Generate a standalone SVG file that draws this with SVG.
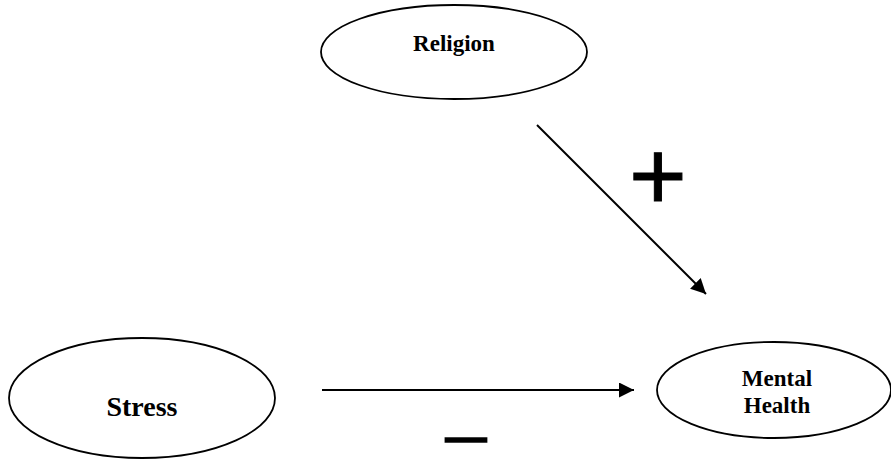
<svg xmlns="http://www.w3.org/2000/svg" width="891" height="459" viewBox="0 0 891 459">
<style>
.node ellipse{fill:#fff;stroke:#000;stroke-width:1.8}
.lbl{font-family:"Liberation Serif","Times New Roman",serif;font-weight:bold;fill:#000;text-anchor:middle}
.edge{stroke:#000;stroke-width:2;fill:none;marker-end:url(#ah)}
.sign{font-family:"Liberation Sans",Arial,sans-serif;fill:#000;text-anchor:middle}
</style>
<defs>
<marker id="ah" markerUnits="userSpaceOnUse" markerWidth="16" markerHeight="16" refX="15" refY="7.5" orient="auto">
<path d="M0,0 L15,7.5 L0,15 z" fill="#000"/>
</marker>
</defs>
<rect width="891" height="459" fill="#fff"/>
<g id="religion" class="node">
<ellipse cx="454" cy="52" rx="133" ry="47"/>
<text class="lbl" x="454" y="51" font-size="23">Religion</text>
</g>
<g id="stress" class="node">
<ellipse cx="142" cy="398" rx="133" ry="60"/>
<text class="lbl" x="142" y="416" font-size="28">Stress</text>
</g>
<g id="mental-health" class="node">
<ellipse cx="774" cy="390" rx="117" ry="48"/>
<text class="lbl" x="777" y="386" font-size="23">Mental</text>
<text class="lbl" x="777" y="413" font-size="23">Health</text>
</g>
<g id="connectors">
<line class="edge" x1="537" y1="125" x2="706" y2="294"/>
<line class="edge" x1="322" y1="390" x2="634" y2="390"/>
</g>
<g id="signs">
<text class="sign" x="658" y="210" font-size="99" stroke="#000" stroke-width="1">+</text>
<text class="sign" transform="translate(466,451) scale(2,1)" x="0" y="0" font-size="40" font-weight="bold" stroke="#000" stroke-width="1.6">–</text>
</g>
</svg>
